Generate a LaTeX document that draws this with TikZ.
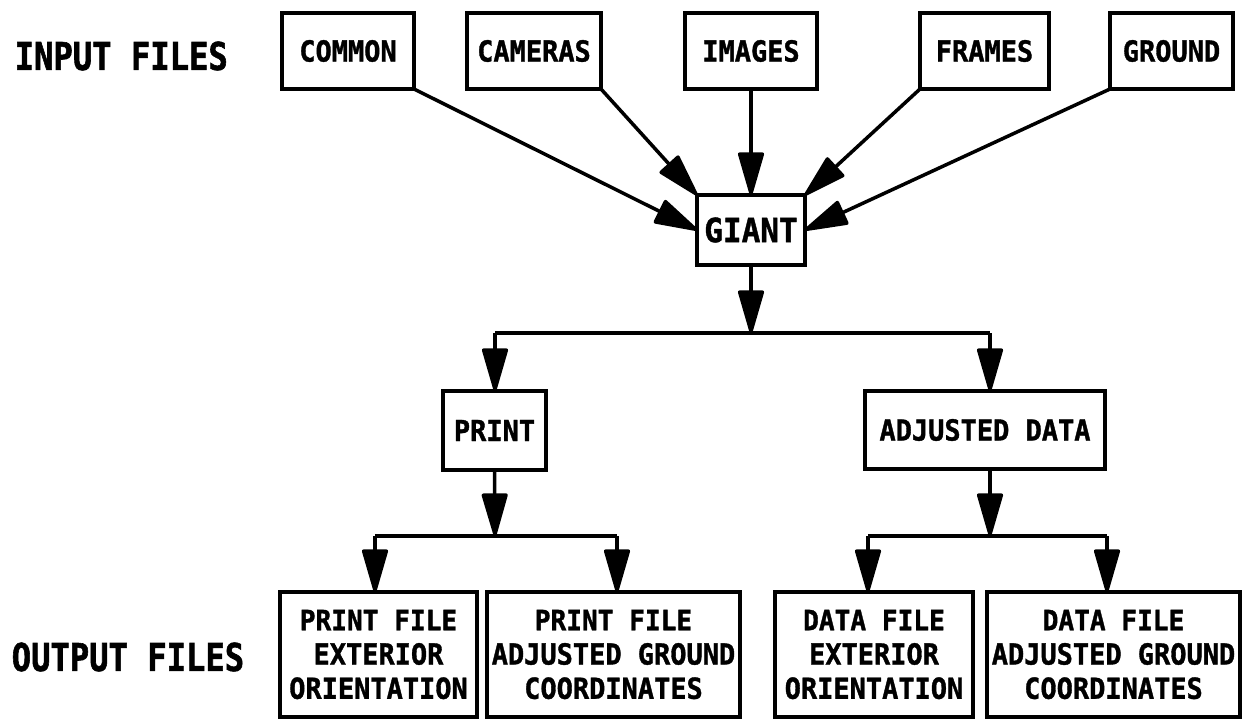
\documentclass[tikz,border=0pt]{standalone}
\usepackage{fontspec}
\newfontfamily\boxfont{DejaVu Sans Mono}[FakeStretch=0.93,BoldFeatures={FakeBold=1.2}]
\newfontfamily\labfont{DejaVu Sans Mono}[FakeStretch=0.84,BoldFeatures={FakeBold=1.5}]
\usetikzlibrary{arrows.meta}
\newcommand{\mkboxn}[7]{%
  \node[boxst,minimum width={(#4-#2)*0.02cm},minimum height={(#5-#3)*0.02cm}]
    (#1) at ({(#2+#4)/2},{(#3+#5)/2}) {#6#7};}
\begin{document}
\begin{tikzpicture}[x=0.02cm,y=-0.02cm,line width=2pt,
  boxst/.style={draw,inner sep=0pt,outer sep=0pt,align=center,
    font=\boxfont\bfseries\fontsize{16.5}{19.5}\selectfont},
  lbl/.style={inner sep=0pt,font=\labfont\bfseries\fontsize{21.8}{24}\selectfont},
  arr/.style={-{Triangle[length=27pt,width=15pt,round]}}]
\useasboundingbox (0,0) rectangle (1250,720);
% input files
\mkboxn{common}{282}{13}{414}{89}{}{COMMON}
\mkboxn{cameras}{467}{13}{601}{89}{}{CAMERAS}
\mkboxn{images}{685}{13}{817}{89}{}{IMAGES}
\mkboxn{frames}{920}{13}{1049}{89}{}{FRAMES}
\mkboxn{ground}{1110}{13}{1233}{89}{}{GROUND}
\mkboxn{giant}{697}{195}{805}{265}{\fontsize{19}{22}\selectfont}{GIANT}
\mkboxn{print}{443}{391}{546}{470}{}{PRINT}
\mkboxn{adj}{865}{391}{1105}{469}{}{ADJUSTED DATA}
\mkboxn{out1}{280}{592}{477}{717}{\fontsize{16}{17.5}\selectfont}{PRINT FILE\\EXTERIOR\\ORIENTATION}
\mkboxn{out2}{487}{592}{740}{717}{\fontsize{16}{17.5}\selectfont}{PRINT FILE\\ADJUSTED GROUND\\COORDINATES}
\mkboxn{out3}{775}{592}{973}{717}{\fontsize{16}{17.5}\selectfont}{DATA FILE\\EXTERIOR\\ORIENTATION}
\mkboxn{out4}{987}{592}{1240}{717}{\fontsize{16}{17.5}\selectfont}{DATA FILE\\ADJUSTED GROUND\\COORDINATES}
\node[lbl,anchor=west] (inlbl) at (13,56) {INPUT FILES};
\node[lbl,anchor=west] (outlbl) at (10,657) {OUTPUT FILES};
% arrows into GIANT
\draw[arr] (common.south east) -- (giant.west);
\draw[arr] (cameras.south east) -- (giant.north west);
\draw[arr] (images.south) -- (giant.north);
\draw[arr] (frames.south west) -- (giant.north east);
\draw[arr] (ground.south west) -- (giant.east);
% first branch
\coordinate (j1) at (751,333);
\coordinate (jl) at (495,333);
\coordinate (jr) at (990,333);
\draw[arr] (giant.south) -- (j1);
\draw (jl) -- (jr);
\draw[arr] (jl) -- (jl |- print.north);
\draw[arr] (jr) -- (jr |- adj.north);
% print branch
\coordinate (k1) at (495,536);
\coordinate (kl) at (375,536);
\coordinate (kr) at (617,536);
\draw[arr] (print.south) -- (k1);
\draw (kl) -- (kr);
\draw[arr] (kl) -- (kl |- out1.north);
\draw[arr] (kr) -- (kr |- out2.north);
% adjusted data branch
\coordinate (m1) at (990,536);
\coordinate (ml) at (868,536);
\coordinate (mr) at (1107,536);
\draw[arr] (m1 |- adj.south) -- (m1);
\draw (ml) -- (mr);
\draw[arr] (ml) -- (ml |- out3.north);
\draw[arr] (mr) -- (mr |- out4.north);
\end{tikzpicture}
\end{document}
